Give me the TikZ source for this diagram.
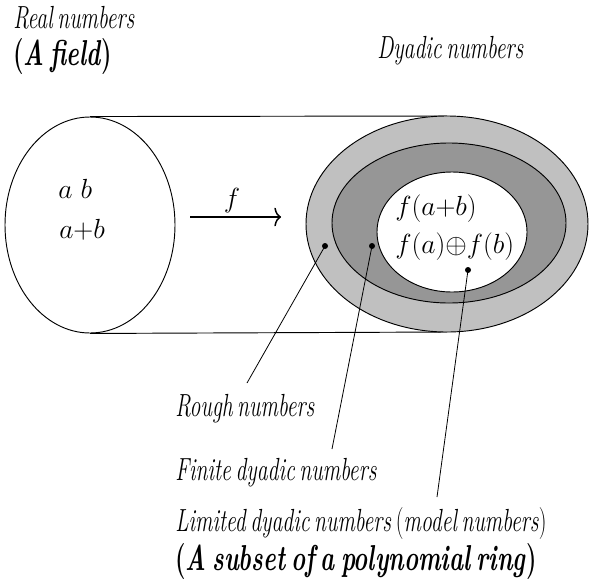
\documentclass[tikz,border=0pt]{standalone}
\usepackage{fontspec}
\newfontfamily\narrowfont{Latin Modern Roman}[FakeStretch=0.68, WordSpace=0.6]
\newfontfamily\headfont{Latin Modern Roman}[FakeStretch=0.665, WordSpace=0.6]
\usepackage{tikz}
\usetikzlibrary{arrows.meta, shapes.geometric}
\definecolor{ringlight}{HTML}{C0C0C0}
\definecolor{ringdark}{HTML}{969696}
\tikzset{
  setring/.style={ellipse, draw=black, line width=0.7pt, inner sep=0pt},
  marker/.style={circle, fill=black, inner sep=0pt, minimum size=4.5pt},
  leader/.style={line width=0.6pt},
  caption/.style={anchor=base west, inner sep=0pt, font=\narrowfont\fontsize{24}{27}\selectfont\itshape},
  headline/.style={anchor=base west, inner sep=0pt, font=\headfont\fontsize{27}{31}\selectfont\bfseries},
  formula/.style={anchor=base west, inner sep=0pt, font=\fontsize{20}{23}\selectfont}
}

\begin{document}
\begin{tikzpicture}[x=0.75pt, y=-0.75pt]
\useasboundingbox (0,0) rectangle (589,579);
\node[caption] (realname) at (13,28) {Real numbers};
\node[headline] (realkind) at (13,65) {(\textit{A field})};
\node[caption] (dyname) at (377,58) {Dyadic numbers};
\node[setring, minimum width=127.5pt, minimum height=162pt] (real) at (90,225) {};
\coordinate (dytop) at (447,116);
\coordinate (dybot) at (447,332);
\draw[line width=0.7pt] (real.north) -- (dytop);
\draw[line width=0.7pt] (real.south) -- (dybot);
\node[setring, fill=ringlight, minimum width=211.5pt, minimum height=162pt] (dyadic) at (447,224) {};
\node[setring, fill=ringdark, minimum width=175.5pt, minimum height=120pt] (finite) at (449,223) {};
\node[setring, fill=white, minimum width=112.5pt, minimum height=90pt] (limited) at (452,232) {};
\node[formula] (ab) at (58,198) {$a$ $b$};
\node[formula] (aplusb) at (59,238) {$a{+}b$};
\coordinate (ffrom) at (190,217);
\coordinate (fto) at (281,217);
\draw[line width=1.1pt, -{To[length=5pt,width=14pt]}] (ffrom) -- (fto);
\node[formula, anchor=base] (fname) at (232,207) {$f$};
\node[formula] (fsum) at (395,215) {$f(a{+}b)$};
\node[formula] (fplus) at (395,253) {$f(a){\oplus}f(b)$};
\node[marker] (mrough) at (325,246) {};
\node[marker] (mfinite) at (372,246) {};
\node[marker] (mlimited) at (468,270) {};
\coordinate (erough) at (247,383);
\coordinate (efinite) at (332,449);
\coordinate (elimited) at (437,497);
\draw[leader] (mrough.center) -- (erough);
\draw[leader] (mfinite.center) -- (efinite);
\draw[leader] (mlimited.center) -- (elimited);
\node[caption] (rough) at (175,416) {Rough numbers};
\node[caption] (fin) at (175,480) {Finite dyadic numbers};
\node[caption] (lim) at (175,531) {Limited dyadic numbers \textup{(}model numbers\textup{)}};
\node[headline] (ring) at (175,570) {(\textit{A subset of a polynomial ring})};
\end{tikzpicture}
\end{document}
